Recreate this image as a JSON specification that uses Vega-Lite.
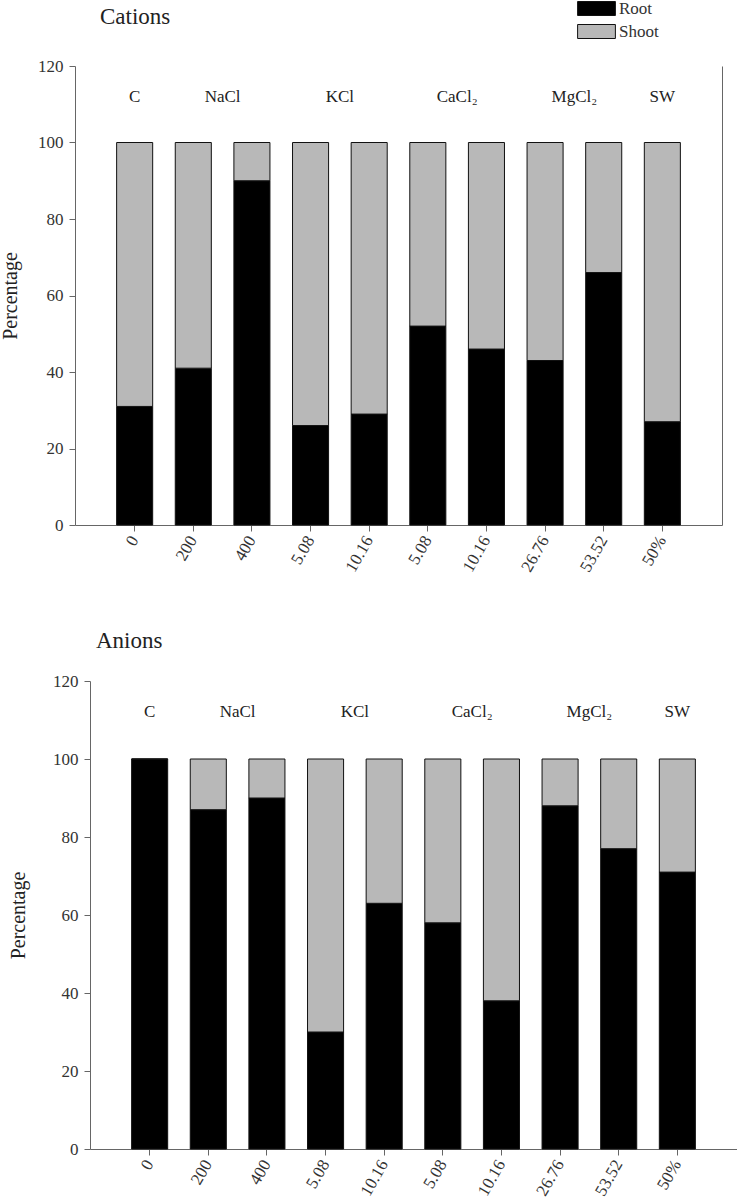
{
  "$schema": "https://vega.github.io/schema/vega-lite/v6.json",
  "background": "white",
  "padding": {"left": 0, "top": 0, "right": 0, "bottom": 0},
  "autosize": {"type": "pad"},
  "spacing": 55,
  "config": {
    "font": "Liberation Serif",
    "view": {"stroke": null},
    "axis": {"labelFont": "Liberation Serif", "titleFont": "Liberation Serif", "labelFontSize": 17, "titleFontSize": 20, "titleFontWeight": "normal", "labelColor": "#333", "titleColor": "#222", "domainColor": "#666", "tickColor": "#666", "grid": false},
    "legend": {"labelFont": "Liberation Serif", "labelFontSize": 17, "labelColor": "#333"},
    "title": {"font": "Liberation Serif", "fontSize": 23, "fontWeight": "normal", "color": "#222"},
    "text": {"font": "Liberation Serif"}
  },
  "datasets": {
    "cations": [
      {"cat": "0 C", "series": "Root", "value": 31}, {"cat": "0 C", "series": "Shoot", "value": 69},
      {"cat": "200 Na", "series": "Root", "value": 41}, {"cat": "200 Na", "series": "Shoot", "value": 59},
      {"cat": "400 Na", "series": "Root", "value": 90}, {"cat": "400 Na", "series": "Shoot", "value": 10},
      {"cat": "5.08 K", "series": "Root", "value": 26}, {"cat": "5.08 K", "series": "Shoot", "value": 74},
      {"cat": "10.16 K", "series": "Root", "value": 29}, {"cat": "10.16 K", "series": "Shoot", "value": 71},
      {"cat": "5.08 Ca", "series": "Root", "value": 52}, {"cat": "5.08 Ca", "series": "Shoot", "value": 48},
      {"cat": "10.16 Ca", "series": "Root", "value": 46}, {"cat": "10.16 Ca", "series": "Shoot", "value": 54},
      {"cat": "26.76 Mg", "series": "Root", "value": 43}, {"cat": "26.76 Mg", "series": "Shoot", "value": 57},
      {"cat": "53.52 Mg", "series": "Root", "value": 66}, {"cat": "53.52 Mg", "series": "Shoot", "value": 34},
      {"cat": "50% SW", "series": "Root", "value": 27}, {"cat": "50% SW", "series": "Shoot", "value": 73}
    ],
    "anions": [
      {"cat": "0 C", "series": "Root", "value": 100}, {"cat": "0 C", "series": "Shoot", "value": 0},
      {"cat": "200 Na", "series": "Root", "value": 87}, {"cat": "200 Na", "series": "Shoot", "value": 13},
      {"cat": "400 Na", "series": "Root", "value": 90}, {"cat": "400 Na", "series": "Shoot", "value": 10},
      {"cat": "5.08 K", "series": "Root", "value": 30}, {"cat": "5.08 K", "series": "Shoot", "value": 70},
      {"cat": "10.16 K", "series": "Root", "value": 63}, {"cat": "10.16 K", "series": "Shoot", "value": 37},
      {"cat": "5.08 Ca", "series": "Root", "value": 58}, {"cat": "5.08 Ca", "series": "Shoot", "value": 42},
      {"cat": "10.16 Ca", "series": "Root", "value": 38}, {"cat": "10.16 Ca", "series": "Shoot", "value": 62},
      {"cat": "26.76 Mg", "series": "Root", "value": 88}, {"cat": "26.76 Mg", "series": "Shoot", "value": 12},
      {"cat": "53.52 Mg", "series": "Root", "value": 77}, {"cat": "53.52 Mg", "series": "Shoot", "value": 23},
      {"cat": "50% SW", "series": "Root", "value": 71}, {"cat": "50% SW", "series": "Shoot", "value": 29}
    ],
    "singles": [{"cat": "0 C", "label": "C"}, {"cat": "50% SW", "label": "SW"}],
    "pairs": [{"cat": "200 Na", "label": "NaCl"}, {"cat": "5.08 K", "label": "KCl"}, {"cat": "5.08 Ca", "label": "CaCl₂"}, {"cat": "26.76 Mg", "label": "MgCl₂"}]
  },
  "vconcat": [
    {
      "width": 647,
      "height": 459,
      "title": {"text": "Cations", "anchor": "start", "frame": "group", "dx": 25, "offset": 28},
      "resolve": {"axis": {"y": "independent"}},
      "layer": [
        {
          "data": {"name": "cations"},
          "mark": {"type": "bar", "stroke": "#111", "strokeWidth": 1},
          "encoding": {
            "x": {"field": "cat", "type": "nominal", "sort": null,
                  "scale": {"paddingInner": 0.385, "paddingOuter": 0.71},
                  "axis": {"title": null, "labelAngle": -60, "labelAlign": "right", "labelBaseline": "middle", "labelExpr": "split(datum.value, ' ')[0]", "labelPadding": 6, "tickSize": 6, "labelFont": "Liberation Serif"}},
            "y": {"field": "value", "type": "quantitative", "stack": "zero",
                  "scale": {"domain": [0, 120]},
                  "axis": {"title": "Percentage", "values": [0, 20, 40, 60, 80, 100, 120], "tickSize": 6, "labelPadding": 6, "titlePadding": 17, "labelFont": "Liberation Serif", "titleFont": "Liberation Serif"}},
            "color": {"field": "series", "type": "nominal",
                      "scale": {"domain": ["Root", "Shoot"], "range": ["#000000", "#b8b8b8"]},
                      "legend": {"title": null, "orient": "none", "legendX": 513, "legendY": -66, "symbolType": "M-2.7,-1H2.7V1H-2.7Z", "symbolSize": 196, "symbolStrokeColor": "#111", "symbolStrokeWidth": 1, "rowPadding": 4, "labelOffset": 14, "labelFont": "Liberation Serif"}},
            "order": {"field": "series", "sort": "ascending"}
          }
        },
        {
          "data": {"name": "singles"},
          "mark": {"type": "text", "fontSize": 17, "color": "#222", "baseline": "middle", "font": "Liberation Serif"},
          "encoding": {
            "x": {"field": "cat", "type": "nominal", "sort": null},
            "y": {"datum": 112, "type": "quantitative", "axis": null},
            "text": {"field": "label"}
          }
        },
        {
          "data": {"name": "pairs"},
          "mark": {"type": "text", "fontSize": 17, "color": "#222", "baseline": "middle", "font": "Liberation Serif"},
          "encoding": {
            "x": {"field": "cat", "type": "nominal", "sort": null, "bandPosition": 1.313},
            "y": {"datum": 112, "type": "quantitative", "axis": null},
            "text": {"field": "label"}
          }
        },
        {
          "data": {"name": "cations"},
          "mark": {"type": "rule", "opacity": 0},
          "encoding": {
            "y": {"field": "value", "type": "quantitative", "axis": {"orient": "right", "labels": false, "ticks": false, "title": null, "domain": true}}
          }
        }
      ]
    },
    {
      "width": 662,
      "height": 468,
      "title": {"text": "Anions", "anchor": "start", "frame": "group", "dx": 21, "offset": 19},
      "resolve": {"axis": {"y": "independent"}},
      "layer": [
        {
          "data": {"name": "anions"},
          "mark": {"type": "bar", "stroke": "#111", "strokeWidth": 1},
          "encoding": {
            "x": {"field": "cat", "type": "nominal", "sort": null,
                  "scale": {"range": [15, 662], "paddingInner": 0.385, "paddingOuter": 0.71},
                  "axis": {"title": null, "labelAngle": -60, "labelAlign": "right", "labelBaseline": "middle", "labelExpr": "split(datum.value, ' ')[0]", "labelPadding": 6, "tickSize": 6, "labelFont": "Liberation Serif"}},
            "y": {"field": "value", "type": "quantitative", "stack": "zero",
                  "scale": {"domain": [0, 120]},
                  "axis": {"title": "Percentage", "offset": -15, "values": [0, 20, 40, 60, 80, 100, 120], "tickSize": 6, "labelPadding": 6, "titlePadding": 24, "labelFont": "Liberation Serif", "titleFont": "Liberation Serif"}},
            "color": {"field": "series", "type": "nominal",
                      "scale": {"domain": ["Root", "Shoot"], "range": ["#000000", "#b8b8b8"]},
                      "legend": {"title": null, "orient": "none", "legendX": 503, "legendY": -59, "symbolType": "M-2.7,-1H2.7V1H-2.7Z", "symbolSize": 196, "symbolStrokeColor": "#111", "symbolStrokeWidth": 1, "rowPadding": 4, "labelOffset": 14, "labelFont": "Liberation Serif"}},
            "order": {"field": "series", "sort": "ascending"}
          }
        },
        {
          "data": {"name": "singles"},
          "mark": {"type": "text", "fontSize": 17, "color": "#222", "baseline": "middle", "font": "Liberation Serif"},
          "encoding": {
            "x": {"field": "cat", "type": "nominal", "sort": null},
            "y": {"datum": 112, "type": "quantitative", "axis": null},
            "text": {"field": "label"}
          }
        },
        {
          "data": {"name": "pairs"},
          "mark": {"type": "text", "fontSize": 17, "color": "#222", "baseline": "middle", "font": "Liberation Serif"},
          "encoding": {
            "x": {"field": "cat", "type": "nominal", "sort": null, "bandPosition": 1.313},
            "y": {"datum": 112, "type": "quantitative", "axis": null},
            "text": {"field": "label"}
          }
        },
        {
          "data": {"name": "anions"},
          "mark": {"type": "rule", "opacity": 0},
          "encoding": {
            "y": {"field": "value", "type": "quantitative", "axis": {"orient": "right", "labels": false, "ticks": false, "title": null, "domain": true}}
          }
        }
      ]
    }
  ]
}
